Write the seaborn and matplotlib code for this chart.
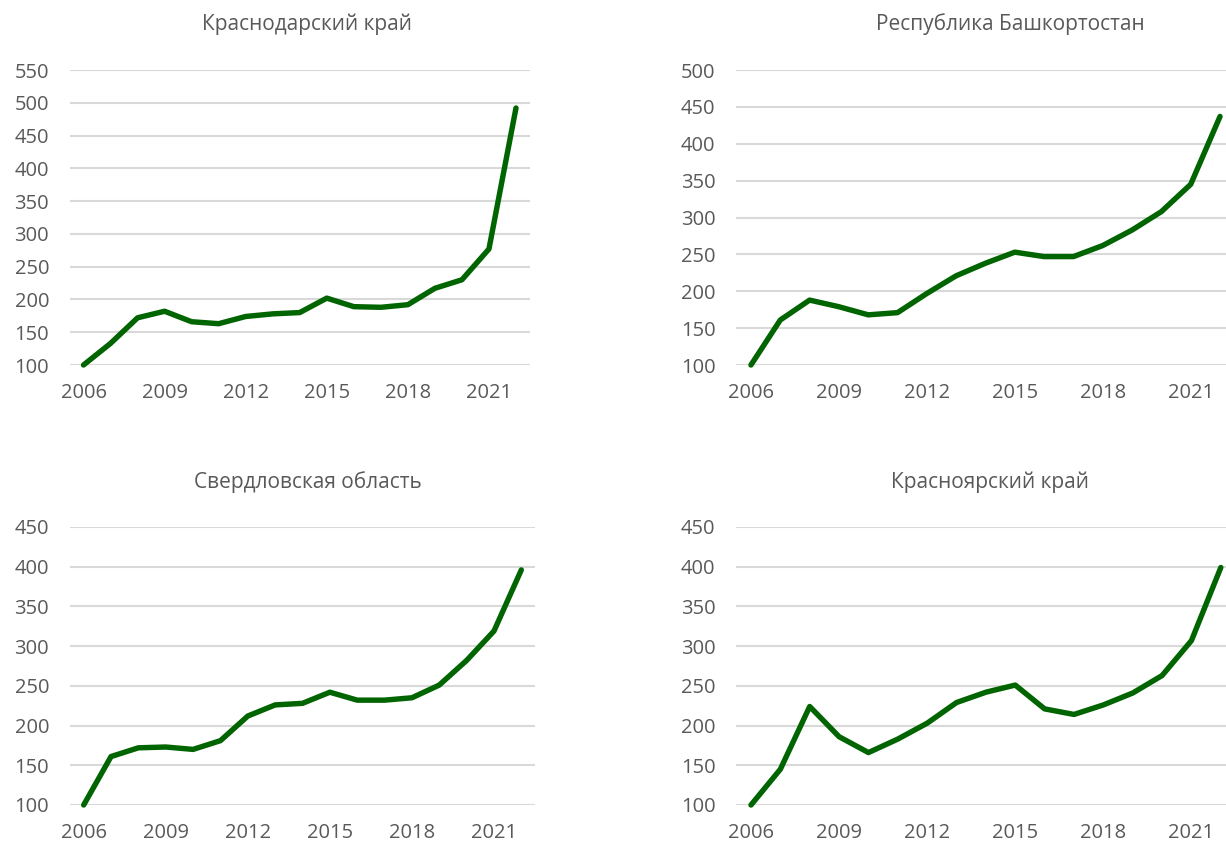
import matplotlib
matplotlib.use("Agg")
import matplotlib.pyplot as plt
import seaborn as sns
import pandas as pd

years = list(range(2006, 2023))

krasnodar = [100, 133, 172, 182, 166, 163, 174, 178, 180, 202, 189, 188, 192, 217, 230, 277, 492]
bashkortostan = [100, 161, 188, 179, 168, 171, 197, 221, 238, 253, 247, 247, 262, 283, 308, 345, 437]
sverdlovsk = [100, 161, 172, 173, 170, 181, 212, 226, 228, 242, 232, 232, 235, 251, 282, 319, 396]
krasnoyarsk = [100, 145, 224, 186, 166, 183, 203, 229, 242, 251, 221, 214, 226, 241, 263, 307, 399]

titles = ["Краснодарский край", "Республика Башкортостан", "Свердловская область", "Красноярский край"]
series = [krasnodar, bashkortostan, sverdlovsk, krasnoyarsk]
ylims = [(100, 550), (100, 500), (100, 450), (100, 450)]
xticks = [2006, 2009, 2012, 2015, 2018, 2021]

sns.set_theme(style="white")
plt.rcParams['font.family'] = ['Open Sans', 'DejaVu Sans']

W, H = 1226, 843
fig = plt.figure(figsize=(W / 100, H / 100), dpi=100)

# axes boxes in pixels: left, right, top, bottom
boxes = [(70, 529.5, 70, 365), (736.3, 1234.7, 70, 365), (70, 535, 527, 805), (736.3, 1235.5, 527, 805)]
title_y = [24, 24, 482, 482]
title_x = [307, 1010, 308, 990]

line_color = "#006400"
grid_color = "#d9d9d9"
text_color = "#595959"

for i in range(4):
    l, r, t, b = boxes[i]
    ax = fig.add_axes([l / W, (H - b) / H, (r - l) / W, (b - t) / H])
    df = pd.DataFrame({"year": years, "value": series[i]})
    lo, hi = ylims[i]
    ax.set_ylim(lo, hi)
    ax.set_xlim(2005.5, 2022.5)
    ax.set_yticks(list(range(lo, hi + 1, 50)))
    ax.set_xticks(xticks)
    ax.grid(axis="y", color=grid_color, linewidth=1.5)
    ax.set_axisbelow(True)
    sns.lineplot(data=df, x="year", y="value", ax=ax, color=line_color,
                 linewidth=3.9, clip_on=False, solid_joinstyle="round",
                 solid_capstyle="round")
    for s in ax.spines.values():
        s.set_visible(False)
    ax.tick_params(axis="both", length=0, labelsize=14.5, colors=text_color)
    ax.tick_params(axis="y", pad=15)
    ax.tick_params(axis="x", pad=13)
    ax.set_xlabel("")
    ax.set_ylabel("")
    fig.text(title_x[i] / W, 1 - title_y[i] / H, titles[i], ha="center", va="center",
             fontsize=15, color=text_color)

fig.savefig("out.png", dpi=100)
